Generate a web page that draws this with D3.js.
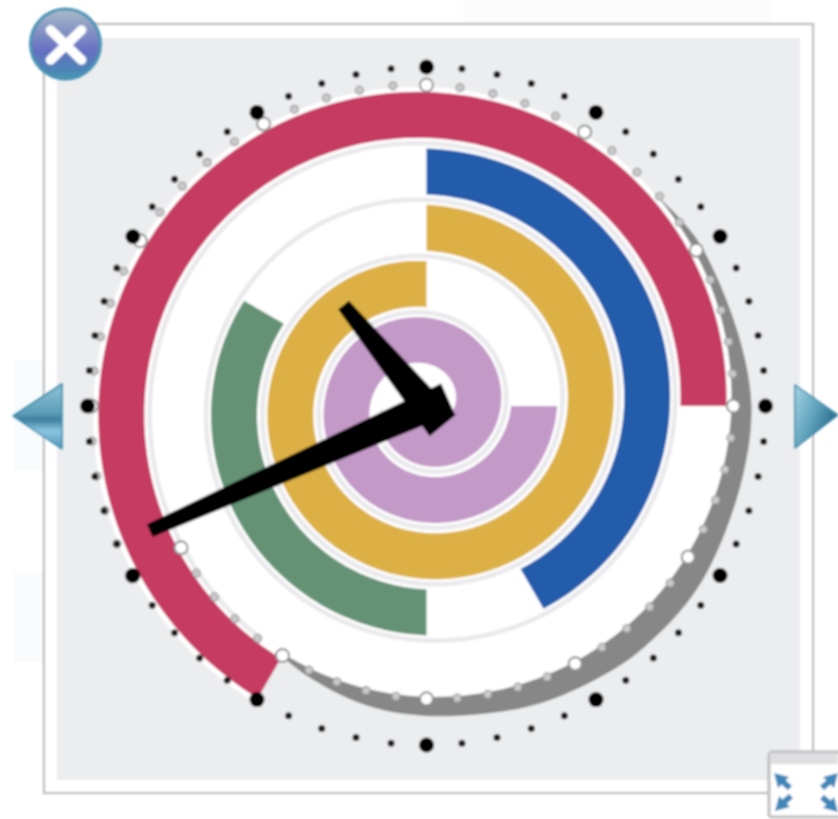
<!DOCTYPE html>
<html>
<head>
<meta charset="utf-8">
<title>Spiral clock</title>
<style>
body {
	margin: 0;
	background-color: #ffffff;
}
svg {
	display: block;
}
</style>
</head>
<body>
<script src="https://d3js.org/d3.v7.min.js"></script>
<script>

// spiral bars, minutes counted from 12 o'clock of the first turn
var barNames = ["red", "blue", "green", "yellow", "pink"];
var barStart = [35, 120, 150, 180, 255];
var barEnd = [75, 145, 170, 240, 343];

// grey crescent round the outside of the spiral
var shadowMinute = [68, 70, 75, 80, 83, 85, 87, 90, 92, 94, 95];
var shadowRadius = [312, 318, 325, 326, 325, 321, 317, 310, 305, 295, 289];

// clock hands
var clockHour = 10;
var clockMinute = 41;

// dial
var dialMinutes = d3.range(0, 60);
var spiralMinutes = d3.range(40, 101);

var w = 838;
var h = 819;
var cx = 426.5;
var cy = 406;
var barWidth = 46;
var turnGap = 57;

var svg = d3.select("body")
            .append("svg")
            .attr("width", w)
            .attr("height", h);

var defs = svg.append("defs");

defs.append("filter")
    .attr("id", "soft")
    .attr("filterUnits", "userSpaceOnUse")
    .attr("x", 0).attr("y", 0)
    .attr("width", w).attr("height", h)
    .append("feGaussianBlur")
    .attr("stdDeviation", 0.8);

function gradient(id, x1, y1, x2, y2, stops) {
  var g = defs.append("linearGradient")
    .attr("id", id)
    .attr("x1", x1).attr("y1", y1)
    .attr("x2", x2).attr("y2", y2);
  stops.forEach(function(s) {
    g.append("stop").attr("offset", s[0]).attr("stop-color", s[1]);
  });
}

gradient("closeFill", 0, 0, 0, 1, [[0, "#a9bdc9"], [0.22, "#8f9fc4"], [0.6, "#6670c2"], [0.88, "#4d86b6"], [1, "#4a9ab5"]]);
gradient("leftFill", 0, 0, 0, 1, [[0, "#8fc4d8"], [0.45, "#5d9db8"], [0.55, "#3f7f9f"], [0.72, "#8cc5e2"], [1, "#4f93b5"]]);
gradient("rightFill", 0, 0, 1, 0.6, [[0, "#a6d6e6"], [0.55, "#5d9fba"], [1, "#1f6585"]]);

// scales
var angle = d3.scaleLinear().domain([0, 60]).range([0, 2 * Math.PI]);
var radius = d3.scaleLinear().domain([60, 300]).range([314, 88.4]);
var barColor = d3.scaleOrdinal()
                 .domain(barNames)
                 .range(["#c63a62", "#215bab", "#659274", "#dcb044", "#c39ac7"]);

function minutesBetween(a, b) {
  return d3.range(a, b, 0.25).concat([b]);
}

// background
svg.append("rect").attr("x", 14).attr("y", 360).attr("width", 30).attr("height", 110).attr("fill", "#f8fbfc");
svg.append("rect").attr("x", 14).attr("y", 572).attr("width", 30).attr("height", 90).attr("fill", "#fafbfc");
svg.append("rect").attr("x", 463).attr("y", 0).attr("width", 310).attr("height", 24).attr("fill", "#fdfcfc");

var g = svg.append("g").attr("filter", "url(#soft)");

g.append("rect")
 .attr("x", 44).attr("y", 24)
 .attr("width", 769).attr("height", 769)
 .attr("fill", "#ffffff")
 .attr("stroke", "#b4b4b6")
 .attr("stroke-width", 2);

g.append("rect")
 .attr("x", 57).attr("y", 38)
 .attr("width", 743).attr("height", 742)
 .attr("fill", "#ecedef");

var chart = g.append("g").attr("transform", "translate(" + cx + "," + cy + ")");

// crescent
var shadowArea = d3.areaRadial()
    .curve(d3.curveCatmullRom)
    .angle(function(d) { return angle(d); })
    .innerRadius(function(d) { return radius(d); })
    .outerRadius(function(d, i) { return shadowRadius[i]; });

chart.append("path")
     .attr("d", shadowArea(shadowMinute))
     .attr("fill", "#878787");

// white track under the bars
var trackArea = d3.areaRadial()
    .angle(function(d) { return angle(d); })
    .innerRadius(function(d) { return Math.max(0, radius(d) - turnGap); })
    .outerRadius(function(d) { return radius(d) + 5; });

chart.append("circle").attr("r", 45).attr("fill", "#ffffff");

chart.append("path")
     .attr("d", trackArea(minutesBetween(35, 340)))
     .attr("fill", "#ffffff");

// line between the turns
var turnLine = d3.lineRadial()
    .angle(function(d) { return angle(d); })
    .radius(function(d) { return radius(d) + 5; });

chart.append("path")
     .attr("d", turnLine(minutesBetween(96, 338)))
     .attr("fill", "none")
     .attr("stroke", "#e9e9ec")
     .attr("stroke-width", 4.5);

// bars
var barArea = d3.areaRadial()
    .angle(function(d) { return angle(d); })
    .innerRadius(function(d) { return Math.max(0, radius(d) - barWidth); })
    .outerRadius(function(d) { return radius(d); });

chart.selectAll(".bar")
     .data(barNames)
     .enter()
     .append("path")
     .attr("class", "bar")
     .attr("d", function(d, i) {
       return barArea(minutesBetween(barStart[i], barEnd[i]));
     })
     .attr("fill", function(d) { return barColor(d); });

// open dots on the spiral
function polar(r, m) {
  return [r * Math.sin(angle(m)), -r * Math.cos(angle(m))];
}

chart.selectAll(".spiralDot")
     .data(spiralMinutes)
     .enter()
     .append("circle")
     .attr("class", "spiralDot")
     .attr("cx", function(d) { return polar(radius(d) + 7, d)[0]; })
     .attr("cy", function(d) { return polar(radius(d) + 7, d)[1]; })
     .attr("r", function(d) { return d % 5 == 0 ? 6.5 : 4; })
     .attr("fill", function(d) { return d % 5 == 0 ? "#ffffff" : "#c9c9cb"; })
     .attr("stroke", function(d) { return d % 5 == 0 ? "#8f8f8f" : "#9a9a9a"; })
     .attr("stroke-width", function(d) { return d % 5 == 0 ? 2 : 1.2; });

// black dial dots
chart.selectAll(".dialDot")
     .data(dialMinutes)
     .enter()
     .append("circle")
     .attr("class", "dialDot")
     .attr("cx", function(d) { return polar(339, d)[0]; })
     .attr("cy", function(d) { return polar(339, d)[1]; })
     .attr("r", function(d) { return d % 5 == 0 ? 7.5 : 3.5; })
     .attr("fill", function(d) { return d % 5 == 0 ? "#000000" : "#1c1c1c"; });

// hands, drawn pointing up then rotated
var handLine = d3.line();
var degree = d3.scaleLinear().domain([0, 60]).range([0, 360]);

function drawHand(minute, length, tail, tipHalf, baseHalf) {
  chart.append("path")
       .attr("d", handLine([[-tipHalf, -length], [tipHalf, -length], [baseHalf, tail], [-baseHalf, tail]]) + "Z")
       .attr("transform", "translate(1,1) rotate(" + degree(minute) + ")")
       .attr("fill", "#000000");
}

drawHand(clockMinute, 304, 22, 7, 16);
drawHand((clockHour + clockMinute / 60) * 5, 132, 24, 7, 17);

// close button
var close = svg.append("g").attr("filter", "url(#soft)")
               .append("g").attr("transform", "translate(65.5,44)");
close.append("circle")
     .attr("r", 35)
     .attr("fill", "url(#closeFill)")
     .attr("stroke", "#4a93b3")
     .attr("stroke-width", 3);
close.append("path")
     .attr("d", "M-15,-14L16,16M16,-14L-15,16")
     .attr("stroke", "#ffffff")
     .attr("stroke-width", 9.5)
     .attr("stroke-linecap", "round");

// arrows left and right of the panel
var nav = svg.append("g").attr("filter", "url(#soft)");
nav.append("path")
   .attr("d", "M13,416L62,384L62,449Z")
   .attr("fill", "url(#leftFill)")
   .attr("stroke", "#3f8aa8")
   .attr("stroke-width", 1.5)
   .attr("stroke-linejoin", "round");
nav.append("path")
   .attr("d", "M838,415L795,385L795,448Z")
   .attr("fill", "url(#rightFill)")
   .attr("stroke", "#3f8aa8")
   .attr("stroke-width", 1.5)
   .attr("stroke-linejoin", "round");

// little window icon in the corner
var icon = svg.append("g").attr("filter", "url(#soft)");
icon.append("rect")
    .attr("x", 769).attr("y", 752)
    .attr("width", 80).attr("height", 65)
    .attr("rx", 3)
    .attr("fill", "#ffffff")
    .attr("stroke", "#bdbdbf")
    .attr("stroke-width", 3);
icon.append("rect")
    .attr("x", 770).attr("y", 753)
    .attr("width", 68).attr("height", 11)
    .attr("fill", "#dedee0");

var arrowTips = [[774, 773, 1, 1], [838, 773, -1, 1], [775, 811, 1, -1], [838, 812, -1, -1]];
arrowTips.forEach(function(a) {
  var sx = a[2], sy = a[3];
  icon.append("path")
      .attr("d", "M" + a[0] + "," + a[1] +
                 "L" + (a[0] + sx * 15) + "," + (a[1] + sy * 4) +
                 "L" + (a[0] + sx * 4) + "," + (a[1] + sy * 15) + "Z")
      .attr("fill", "#3f86b8");
  icon.append("path")
      .attr("d", "M" + (a[0] + sx * 8) + "," + (a[1] + sy * 8) +
                 "L" + (a[0] + sx * 16) + "," + (a[1] + sy * 15))
      .attr("stroke", "#3f86b8")
      .attr("stroke-width", 6);
});

</script>
</body>
</html>
